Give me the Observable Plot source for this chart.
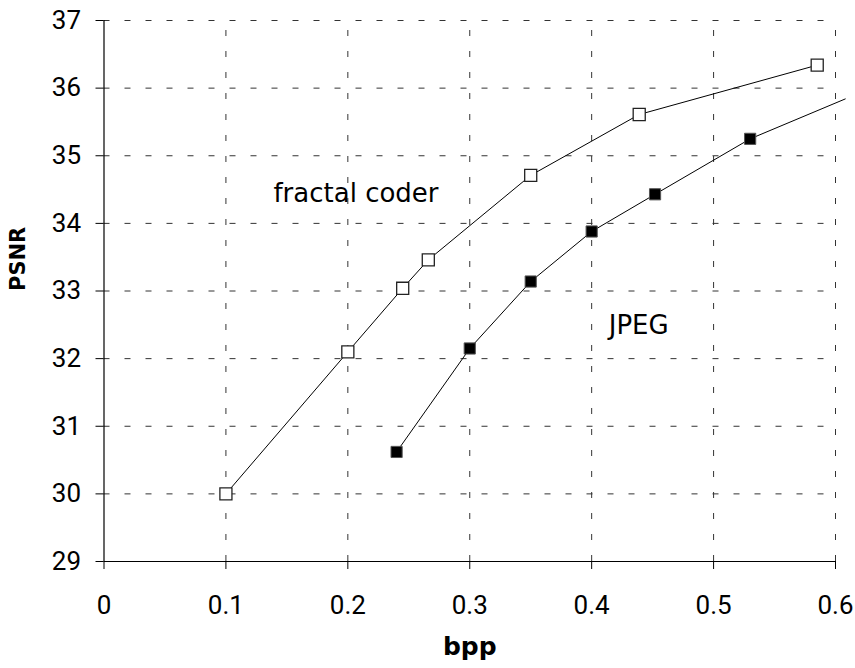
<!DOCTYPE html>
<html>
<head>
<meta charset="utf-8">
<script src="https://cdn.jsdelivr.net/npm/d3@7"></script>
<script src="https://cdn.jsdelivr.net/npm/@observablehq/plot@0.6"></script>
<style>
  html, body { margin: 0; padding: 0; background: #fff; }
  #chart svg { display: block; }
</style>
</head>
<body>
<div id="chart"></div>
<script>
// Data
const fractalBpp  = [0.1, 0.2, 0.245, 0.266, 0.35, 0.439, 0.585];
const fractalPsnr = [30.0, 32.1, 33.04, 33.46, 34.71, 35.61, 36.34];

const jpegBpp  = [0.24, 0.3, 0.35, 0.4, 0.452, 0.53];
const jpegPsnr = [30.62, 32.15, 33.14, 33.88, 34.43, 35.25];
// JPEG curve continues past the right edge (no marker there)
const jpegTailBpp = 0.608;
const jpegTailPsnr = 35.84;

const xTicks = [0, 0.1, 0.2, 0.3, 0.4, 0.5, 0.6];
const yTicks = [29, 30, 31, 32, 33, 34, 35, 36, 37];

const seriesLabels = ["fractal coder", "JPEG"];
const labelBpp = [0.139, 0.414];
const labelPsnr = [34.44, 32.48];

const fractal = fractalBpp.map((x, i) => ({x, y: fractalPsnr[i]}));
const jpeg = jpegBpp.map((x, i) => ({x, y: jpegPsnr[i]}));
const jpegLine = jpeg.concat([{x: jpegTailBpp, y: jpegTailPsnr}]);
const labels = seriesLabels.map((t, i) => ({t, x: labelBpp[i], y: labelPsnr[i]}));

const tickFont = "Roboto, 'DejaVu Sans', sans-serif";
const grid = {stroke: "#333", strokeWidth: 1, strokeDasharray: "6,15"};

const chart = Plot.plot({
  width: 855,
  height: 668,
  marginLeft: 103.5,
  marginRight: 20,
  marginTop: 20,
  marginBottom: 107,
  style: {fontFamily: tickFont, background: "#fff"},
  x: {domain: [0, 0.6]},
  y: {domain: [29, 37]},
  marks: [
    Plot.ruleX(xTicks.filter(d => d > 0), {y1: 29, y2: 37, ...grid}),
    Plot.ruleY(yTicks.filter(d => d > 29), {x1: 0, x2: 0.6, ...grid}),
    Plot.ruleX([0], {y1: 29, y2: 37, stroke: "#000", strokeWidth: 1.2}),
    Plot.ruleY([29], {x1: 0, x2: 0.6, stroke: "#000", strokeWidth: 1.2}),
    Plot.axisX({ticks: xTicks, tickSize: 8, tickPadding: 26, fontSize: 26, label: null,
                tickFormat: d => d === 0 ? "0" : d3.format(".1f")(d), stroke: "#000"}),
    Plot.axisY({ticks: yTicks, tickSize: 8, tickPadding: 15, fontSize: 26, label: null,
                tickFormat: d => String(d), stroke: "#000"}),
    Plot.line(fractal, {x: "x", y: "y", stroke: "#000", strokeWidth: 1}),
    Plot.line(jpegLine, {x: "x", y: "y", stroke: "#000", strokeWidth: 1}),
    Plot.dot(fractal, {x: "x", y: "y", symbol: "square", r: 6.8, fill: "#fff", stroke: "#222", strokeWidth: 1.3}),
    Plot.dot(jpeg, {x: "x", y: "y", symbol: "square", r: 6.3, fill: "#000", stroke: "#555", strokeWidth: 1}),
    Plot.text(labels, {x: "x", y: "y", text: "t", textAnchor: "start", fontSize: 26,
                       fontFamily: "'DejaVu Sans', sans-serif", fill: "#000"}),
    Plot.text(["bpp"], {frameAnchor: "bottom", dy: 93, fontSize: 25, fontWeight: "bold",
                        fontFamily: "'DejaVu Sans', sans-serif", fill: "#000"}),
    Plot.text(["PSNR"], {frameAnchor: "left", dx: -86, rotate: -90, fontSize: 21, fontWeight: "bold",
                         fontFamily: "'DejaVu Sans', sans-serif", fill: "#000"})
  ]
});
document.getElementById("chart").appendChild(chart);
</script>
</body>
</html>
